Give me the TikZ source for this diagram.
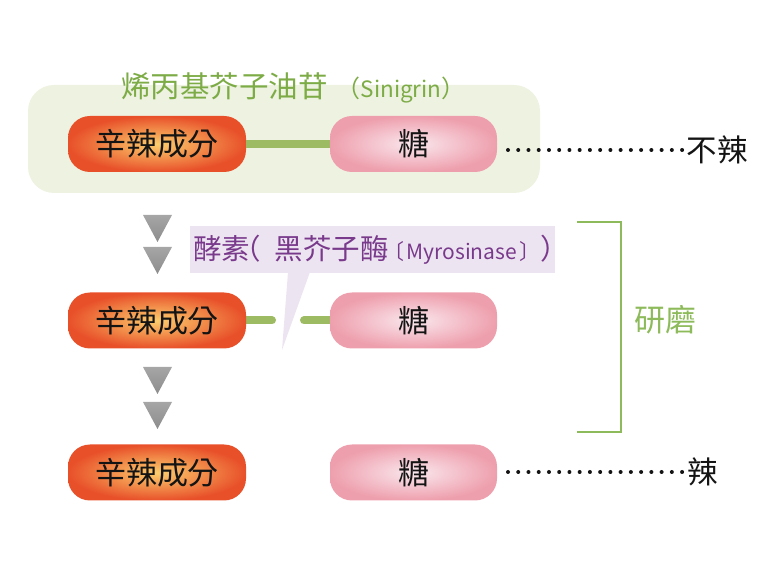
\documentclass[tikz,border=0pt]{standalone}
\usepackage{fontspec}
\setmainfont{Noto Sans CJK TC}
\usetikzlibrary{backgrounds}
\definecolor{boxgreen}{HTML}{EEF2E1}
\definecolor{titlegreen}{HTML}{7DAC47}
\definecolor{bargreen}{HTML}{9DBB62}
\definecolor{brgreen}{HTML}{8DBA5A}
\definecolor{orin}{HTML}{FCCD6C}
\definecolor{orout}{HTML}{E8502A}
\definecolor{pkin}{HTML}{FAE8EE}
\definecolor{pkout}{HTML}{EE9FAD}
\definecolor{lav}{HTML}{ECE4F1}
\definecolor{purp}{HTML}{7A3A8C}
\definecolor{txt}{HTML}{141414}
\begin{document}
\begin{tikzpicture}[x=1pt,y=-1pt,
  orangepill/.style={rounded corners=22pt, minimum width=178pt, minimum height=56pt,
    inner sep=0pt, shading=radial, inner color=orin, outer color=orout,
    text=txt, font=\fontsize{31}{32}\selectfont},
  pinkpill/.style={rounded corners=22pt, minimum width=167pt, minimum height=56pt,
    inner sep=0pt, shading=radial, inner color=pkin, outer color=pkout,
    text=txt, font=\fontsize{31}{32}\selectfont},
  greenbar/.style={line width=8pt, draw=bargreen},
  dotline/.style={line width=4pt, line cap=round, dash pattern=on 0pt off 10.24pt, draw=txt},
  sidetext/.style={inner sep=0pt, text=txt, font=\fontsize{30.5}{31}\selectfont},
  tri/.style={top color=black!35, middle color=black!8, bottom color=black!45},
  bracketline/.style={draw=brgreen, line width=1.3pt}
]
\useasboundingbox (0,0) rectangle (780,585);

% top green group
\node[fill=boxgreen, rounded corners=26pt, minimum width=512pt, minimum height=108pt] (gbox) at (284,139) {};
\node[inner sep=0pt, text=titlegreen, anchor=west] (title) at (121,88)
  {\fontsize{29.5}{30}\selectfont 烯丙基芥子油苷\kern9pt\fontsize{24}{24}\selectfont（\fontsize{22.5}{24}\selectfont Sinigrin\fontsize{24}{24}\selectfont）};

% row 1
\node[orangepill] (o1) at (157,144) {辛辣成分};
\node[pinkpill] (p1) at (413.5,144) {糖};
\draw[greenbar] (o1.east) -- (p1.west);
\coordinate (d1) at (508,150);
\node[sidetext] (nl) at (717,150) {不辣};
\draw[dotline] (d1) -- (d1 -| nl.west);

% arrows
\foreach \t in {215,247,367,402}
  \shade[tri] (143,\t) -- (172,\t) -- (157.5,\t+27) -- cycle;

% callout
\node[fill=lav, minimum width=365pt, minimum height=47pt, inner sep=0pt] (cb) at (372.5,249.5) {};
\fill[lav] (288,272) -- (282,350) -- (310,272) -- cycle;
\node[inner sep=0pt, text=purp, anchor=west] (ct) at (193,250)
  {\fontsize{28.5}{29}\selectfont 酵素\kern-18pt（\kern14pt 黑芥子酶\fontsize{21}{22}\selectfont\kern-5pt〔\kern2pt Myrosinase\kern2pt〕\fontsize{28.5}{29}\selectfont）};

% row 2
\node[orangepill] (o2) at (157,320.5) {辛辣成分};
\node[pinkpill] (p2) at (413.5,320.5) {糖};
\coordinate (g2a) at (272,320.5);
\coordinate (g2b) at (304,320.5);
\begin{scope}[on background layer]
\draw[greenbar, line cap=round] (o2.center) -- (g2a);
\draw[greenbar, line cap=round] (g2b) -- (p2.center);
\end{scope}

% row 3
\node[orangepill] (o3) at (157,472.5) {辛辣成分};
\node[pinkpill] (p3) at (413.5,472.5) {糖};
\coordinate (d3) at (508,472);
\node[sidetext] (la) at (702.5,472) {辣};
\draw[dotline] (d3) -- (d3 -| la.west);

% bracket
\coordinate (b1) at (577,222);
\coordinate (b2) at (621,222);
\coordinate (b3) at (621,432);
\coordinate (b4) at (577,432);
\draw[bracketline] (b1) -- (b2) -- (b3) -- (b4);
\node[inner sep=0pt, text=brgreen, font=\fontsize{31}{32}\selectfont] (gr) at (665,320) {研磨};
\end{tikzpicture}
\end{document}
